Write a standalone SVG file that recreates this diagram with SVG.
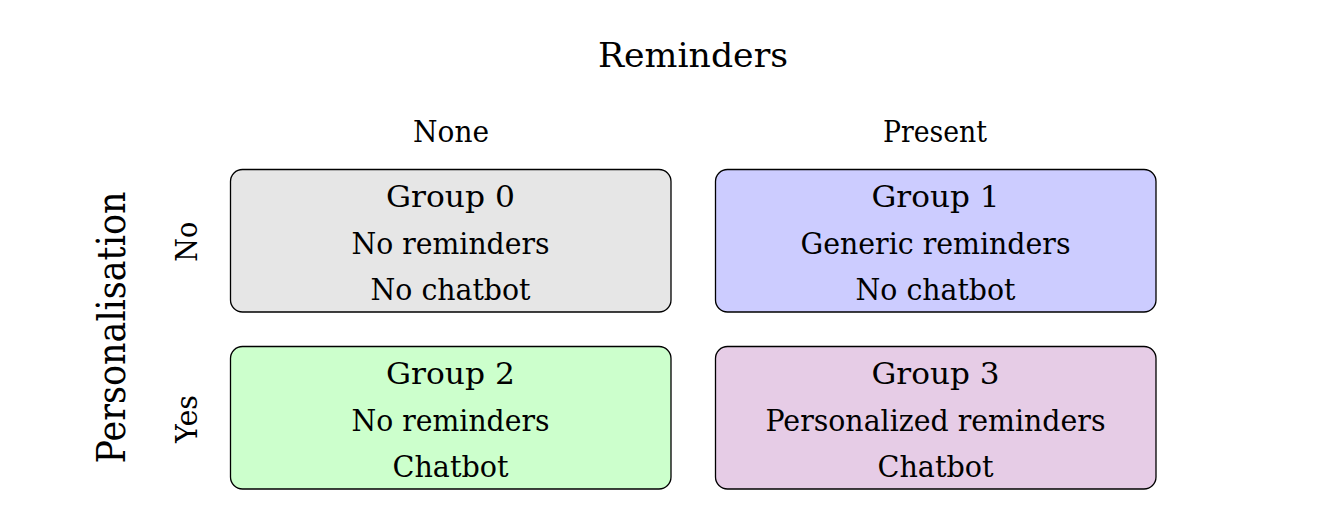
<svg xmlns="http://www.w3.org/2000/svg" width="1330" height="523" viewBox="0 0 1330 523">
  <style>
    text { font-family: "DejaVu Serif", "Liberation Serif", serif; fill: #000; text-anchor: middle; }
    .box { stroke: #000; stroke-width: 1.3; }
    .t { font-size: 30px; }
    .hdr { font-size: 30px; }
    .title { font-size: 33px; }
    .axis { font-size: 39px; }
  </style>
  <rect width="1330" height="523" fill="#ffffff"/>
  <g id="title">
    <text class="title" x="693" y="67" textLength="190" lengthAdjust="spacingAndGlyphs">Reminders</text>
  </g>
  <g id="col-none">
    <text class="hdr" x="451" y="142" textLength="76" lengthAdjust="spacingAndGlyphs">None</text>
  </g>
  <g id="col-present">
    <text class="hdr" x="935" y="142" textLength="104" lengthAdjust="spacingAndGlyphs">Present</text>
  </g>
  <g id="row-axis">
    <text class="axis" transform="translate(125,327.5) rotate(-90)" x="0" y="0" textLength="272" lengthAdjust="spacingAndGlyphs">Personalisation</text>
  </g>
  <g id="row-no">
    <text class="hdr" transform="translate(197,241.7) rotate(-90)" x="0" y="0" textLength="40" lengthAdjust="spacingAndGlyphs">No</text>
  </g>
  <g id="row-yes">
    <text class="hdr" transform="translate(197,419) rotate(-90)" x="0" y="0" textLength="48" lengthAdjust="spacingAndGlyphs">Yes</text>
  </g>
  <g id="group0">
    <rect class="box" x="230.5" y="169.5" width="440.5" height="142.5" rx="12" fill="#e6e6e6"/>
    <text class="t" x="450.5" y="207" textLength="129" lengthAdjust="spacingAndGlyphs">Group 0</text>
    <text class="t" x="450.5" y="254" textLength="198" lengthAdjust="spacingAndGlyphs">No reminders</text>
    <text class="t" x="450.5" y="300" textLength="160" lengthAdjust="spacingAndGlyphs">No chatbot</text>
  </g>
  <g id="group1">
    <rect class="box" x="715.5" y="169.5" width="440.5" height="142.5" rx="12" fill="#ccccff"/>
    <text class="t" x="935.5" y="207" textLength="128" lengthAdjust="spacingAndGlyphs">Group 1</text>
    <text class="t" x="935.5" y="254" textLength="270" lengthAdjust="spacingAndGlyphs">Generic reminders</text>
    <text class="t" x="935.5" y="300" textLength="160" lengthAdjust="spacingAndGlyphs">No chatbot</text>
  </g>
  <g id="group2">
    <rect class="box" x="230.5" y="346.5" width="440.5" height="142.5" rx="12" fill="#ccffcc"/>
    <text class="t" x="450.5" y="384" textLength="129" lengthAdjust="spacingAndGlyphs">Group 2</text>
    <text class="t" x="450.5" y="431" textLength="198" lengthAdjust="spacingAndGlyphs">No reminders</text>
    <text class="t" x="450.5" y="477" textLength="116" lengthAdjust="spacingAndGlyphs">Chatbot</text>
  </g>
  <g id="group3">
    <rect class="box" x="715.5" y="346.5" width="440.5" height="142.5" rx="12" fill="#e6cce6"/>
    <text class="t" x="935.5" y="384" textLength="128" lengthAdjust="spacingAndGlyphs">Group 3</text>
    <text class="t" x="935.5" y="431" textLength="340" lengthAdjust="spacingAndGlyphs">Personalized reminders</text>
    <text class="t" x="935.5" y="477" textLength="116" lengthAdjust="spacingAndGlyphs">Chatbot</text>
  </g>
  <g id="connectors"></g>
</svg>
